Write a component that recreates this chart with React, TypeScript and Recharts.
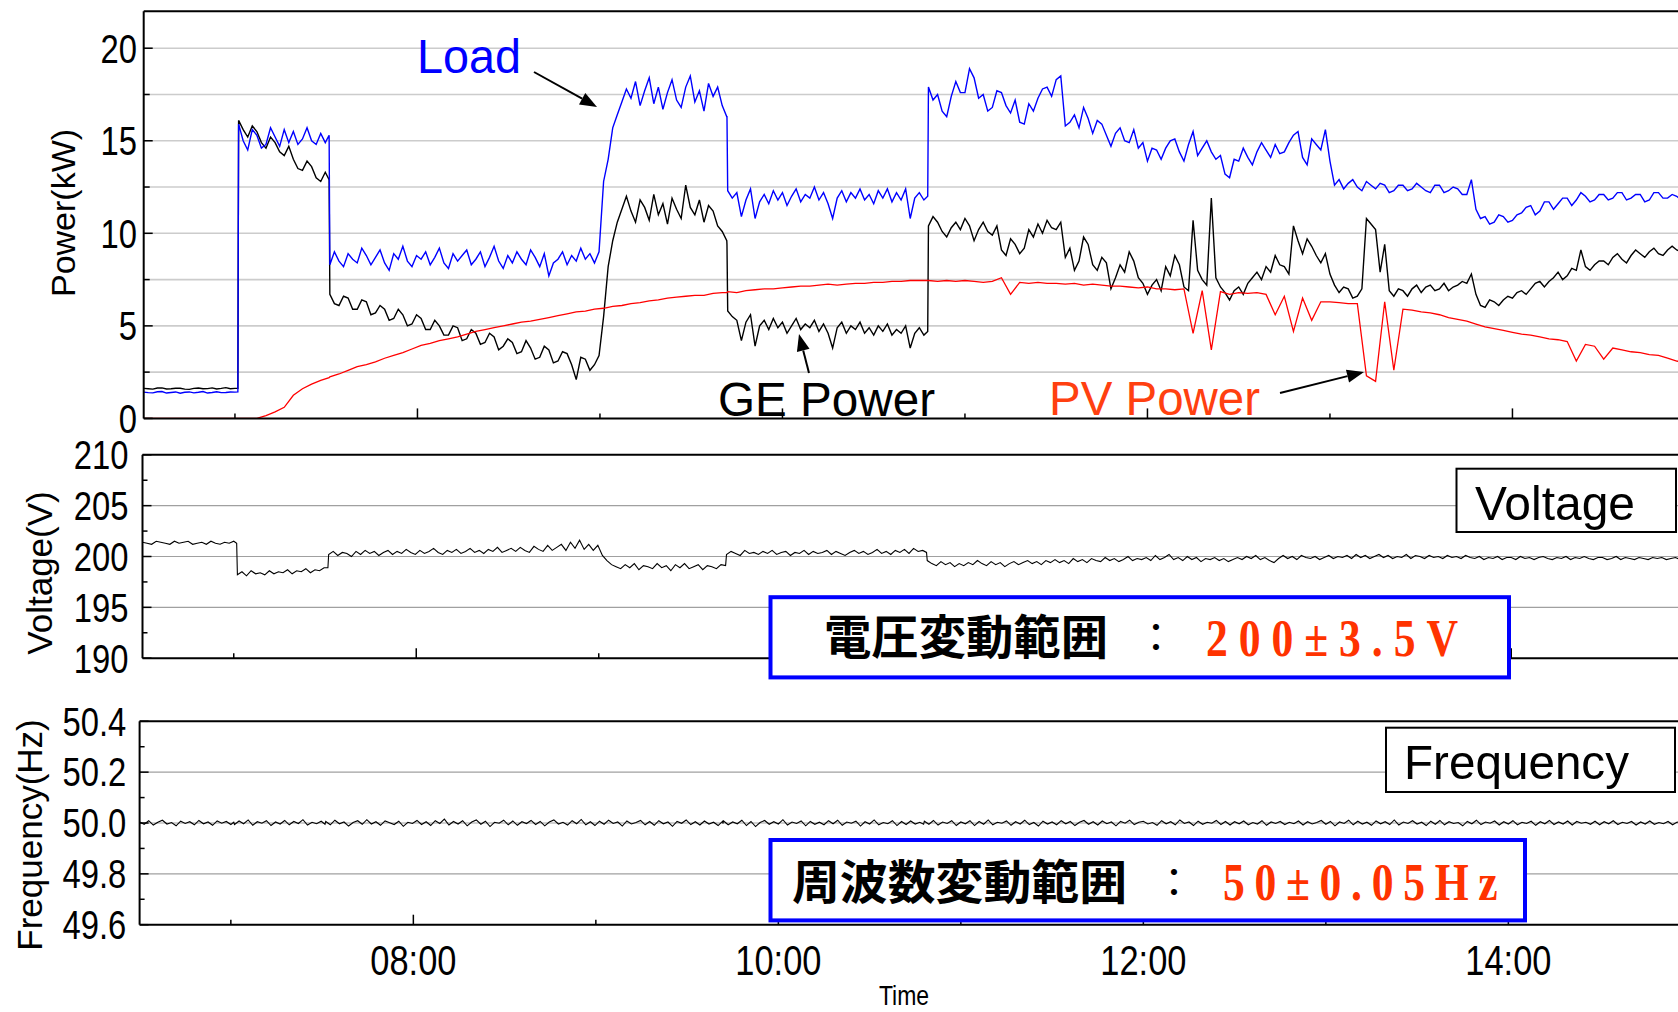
import React from "react";
import {
  LineChart,
  Line,
  XAxis,
  YAxis,
  CartesianGrid,
  ReferenceLine,
} from "recharts";

const W = 1678;
const H = 1012;
const PX_PER_HOUR = 182.5;
const SANS = "'Liberation Sans', Arial, Helvetica, sans-serif";
const SERIF = "'Liberation Serif', 'Times New Roman', serif";
const CJK = "'Noto Sans CJK JP', 'Noto Sans CJK SC', sans-serif";

// sample times in hours, restarted at each switching instant,
// plus one sample just before every switch
const segmentStarts = [6.5, 7.02, 7.52, 9.7, 10.8];
const lastSample = 14.95;

function buildTimes(step: number) {
  const out: number[] = [];
  segmentStarts.forEach((s, i) => {
    const last = i === segmentStarts.length - 1;
    const end = last ? lastSample : segmentStarts[i + 1];
    for (let k = 0; ; k++) {
      const t = Math.round((s + k * step) * 1000) / 1000;
      if (last ? t > end + 1e-6 : t >= end - 1e-6) break;
      out.push(t);
    }
    if (!last) out.push(Math.round((end - 0.004) * 1000) / 1000);
  });
  return out;
}
const times = buildTimes(0.025); // 1.5-minute logger samples
const pvTimes = buildTimes(0.05); // PV read every 3 minutes

const hourTicks = [7, 8, 9, 10, 11, 12, 13, 14];

// ---- Power (kW)
const loadKw = [
  // 6:30 - 7:01
  1.42, 1.39, 1.38, 1.44, 1.45, 1.37, 1.4, 1.43, 1.36, 1.41, 1.43, 1.38, 1.41, 1.45, 1.37, 1.4, 1.44, 1.39, 1.4, 1.43, 1.42, 1.43,
  // 7:01 - 7:31
  15.9, 15.0, 14.5, 15.6, 15.3, 14.6, 14.8, 15.7, 15.2, 14.7, 15.6, 14.9, 15.5, 14.8, 15.1, 15.7, 15.0, 14.8, 15.4, 14.9, 15.3,
  // 7:31 - 9:42
  8.3, 9.0, 8.5, 8.2, 8.9, 8.6, 8.4, 9.2, 8.8, 8.3,
  8.7, 9.1, 8.4, 8.0, 8.9, 8.6, 9.3, 8.5, 8.2, 8.8,
  8.6, 9.0, 8.3, 8.7, 9.2, 8.4, 8.1, 8.9, 8.5, 8.8,
  9.1, 8.3, 8.6, 9.0, 8.2, 8.7, 9.3, 8.5, 8.1, 8.8,
  8.4, 9.0, 8.6, 8.3, 9.1, 8.7, 8.2, 8.9, 7.7, 8.4,
  8.6, 9.0, 8.3, 8.8, 8.5, 9.2, 8.6, 8.9, 8.4, 9.0,
  12.8, 14.0, 15.7, 16.4, 17.1, 17.8,
  17.3, 18.2, 16.9, 17.7, 18.4, 17.0, 17.9, 16.7, 17.6, 18.3, 17.2,
  16.8, 17.9, 18.5, 17.1, 17.7, 16.6, 18.1, 17.4, 17.9, 16.9, 16.3, 16.3,
  // 9:42 - 10:48
  12.3, 11.9, 12.2, 10.9, 11.8, 12.4, 10.8, 11.7, 12.1, 11.6, 12.3, 11.8,
  12.2, 11.5, 12.0, 12.4, 11.7, 12.1, 11.9, 12.5, 11.8, 12.2, 11.6, 10.8,
  11.9, 12.3, 11.7, 12.2, 11.9, 12.4, 11.8, 12.1, 11.6, 12.3, 11.9, 12.4,
  11.7, 12.2, 11.8, 12.4, 10.8, 11.9, 12.2, 11.8, 12.0,
  // 10:48 - 14:57
  17.9, 17.2, 17.5, 16.6, 16.3, 17.4, 18.2, 17.6,
  17.6, 18.9, 18.4, 17.3, 17.5, 16.6, 16.8, 17.7, 17.6, 16.9, 16.5, 17.2, 16.0, 15.9, 17.0, 16.6, 17.3, 17.8, 17.9, 17.4,
  18.3, 18.5, 15.8, 16.0, 16.4, 15.7, 16.8, 16.2, 15.4, 16.1, 15.9, 15.3, 14.7, 15.4, 15.7, 15.0, 14.9, 15.6, 14.6, 14.9,
  13.9, 14.6, 14.5, 14.0, 14.6, 15.0, 15.1, 14.4, 13.9, 14.8, 15.5, 14.2, 14.6, 15.0, 14.4, 14.0, 14.2, 13.2, 13.0, 14.0,
  13.9, 14.6, 14.1, 13.7, 14.4, 14.9, 14.5, 14.1, 14.8, 14.3, 14.4, 14.9, 15.3, 15.5, 14.1, 13.7, 15.1, 14.8, 14.5, 15.6,
  13.9, 12.6, 12.9, 12.4, 12.7, 12.9, 12.5, 12.3, 12.8, 12.6, 12.4, 12.7, 12.6, 12.2, 12.3, 12.6, 12.6, 12.3, 12.4, 12.7,
  12.5, 12.3, 12.2, 12.6, 12.6, 12.2, 12.3, 12.5, 12.4, 12.1, 12.1, 12.9, 11.3, 10.8, 10.9, 10.5, 10.6, 11.0, 10.9, 10.6,
  10.7, 11.0, 11.1, 11.4, 11.5, 11.0, 11.2, 11.7, 11.7, 11.3, 11.6, 11.9, 11.9, 11.5, 11.8, 12.2, 12.0, 11.7, 11.8, 12.1,
  12.1, 11.8, 11.9, 12.2, 12.2, 11.8, 11.9, 12.1, 12.1, 11.7, 11.8, 12.2, 12.2, 11.9, 11.9, 12.1, 12.0, 11.8, 12.0,
];

const geKw = [
  1.62, 1.6, 1.58, 1.64, 1.65, 1.59, 1.6, 1.63, 1.63, 1.58, 1.57, 1.62, 1.64, 1.6, 1.61, 1.65, 1.59, 1.62, 1.66, 1.6, 1.62, 1.63,
  16.1, 15.6, 15.2, 15.8, 15.5, 14.9, 14.6, 15.2, 14.9, 14.4, 14.2, 14.7, 14.0, 13.5, 13.4, 13.9, 13.6, 13.0, 12.8, 13.3, 12.9,
  6.7, 6.2, 6.1, 6.6, 6.5, 5.9, 5.9, 6.4, 6.3, 5.6,
  5.7, 6.1, 5.9, 5.3, 5.4, 5.9, 5.6, 5.0, 5.1, 5.6,
  5.4, 4.8, 4.8, 5.3, 5.0, 4.5, 4.5, 5.0, 4.9, 4.2,
  4.3, 4.8, 4.6, 4.0, 4.1, 4.6, 4.4, 3.7, 3.9, 4.3,
  4.1, 3.5, 3.6, 4.2, 3.8, 3.2, 3.3, 3.9, 3.7, 3.0,
  3.1, 3.6, 3.5, 2.9, 2.1, 3.3, 3.2, 2.6, 2.9, 3.4,
  5.5, 8.2, 9.6, 10.6, 11.3, 12.0,
  11.2, 10.6, 11.8, 11.4, 10.7, 12.1, 11.0, 11.6, 10.5, 11.9, 11.3,
  10.8, 12.6, 11.4, 11.0, 11.8, 10.6, 11.5, 11.2, 10.4, 10.1, 9.6, 9.4,
  5.8, 5.5, 5.3, 4.2, 5.2, 5.6, 3.9, 5.0, 5.3, 4.8, 5.4, 4.9,
  5.2, 4.6, 5.0, 5.4, 4.8, 5.1, 4.9, 5.3, 4.7, 5.1, 4.6, 3.8,
  4.9, 5.2, 4.6, 5.0, 4.8, 5.2, 4.6, 4.9, 4.5, 5.0, 4.7, 5.1,
  4.5, 4.8, 4.6, 5.0, 3.8, 4.6, 4.9, 4.5, 4.7,
  10.4, 10.9, 10.6, 10.1, 9.8, 10.3, 10.6, 10.2,
  10.8, 10.4, 9.6, 10.2, 10.6, 10.1, 9.9, 10.4, 9.1, 8.8, 9.7, 9.4, 8.9, 9.2, 10.2, 9.8, 10.5, 10.0, 10.7, 10.3,
  10.2, 10.6, 8.7, 9.2, 8.0, 8.5, 9.8, 9.4, 8.3, 8.0, 8.7, 8.4, 7.0, 7.6, 8.3, 7.9, 9.0, 8.5, 7.6, 7.3,
  6.7, 7.2, 7.5, 6.9, 8.2, 7.7, 8.8, 8.3, 7.1, 6.9, 10.7, 8.0, 7.5, 7.2, 11.9, 7.6, 7.1, 6.8, 6.4, 6.9,
  7.1, 6.7, 7.3, 7.6, 7.9, 7.5, 8.2, 7.9, 8.8, 8.3, 8.2, 7.8, 10.4, 9.6, 8.9, 9.7, 9.3, 8.8, 8.4, 8.9,
  7.8, 7.2, 6.8, 7.1, 7.0, 6.5, 6.6, 7.0, 10.8, 10.5, 10.2, 7.9, 9.4, 6.9, 6.6, 7.0, 6.9, 6.6, 7.0, 7.2,
  6.8, 7.1, 7.2, 6.9, 7.0, 7.3, 6.9, 7.1, 7.2, 7.4, 7.3, 7.8, 6.7, 6.1, 6.0, 6.4, 6.3, 6.1, 6.4, 6.6,
  6.5, 6.8, 6.9, 6.7, 7.0, 7.3, 7.4, 7.1, 7.4, 7.6, 7.9, 7.5, 7.7, 8.1, 8.0, 9.1, 8.2, 8.0, 8.3, 8.5,
  8.5, 8.3, 8.7, 8.9, 8.6, 8.4, 8.8, 9.1, 8.9, 8.7, 9.0, 9.2, 8.9, 8.8, 9.1, 9.3, 9.1, 9.0, 9.2,
];

// PV output on the 3-minute grid
const pvKw = [
  0, 0, 0, 0, 0, 0, 0, 0, 0, 0, 0, 0,
  0, 0, 0, 0.15, 0.35, 0.6, 1.25, 1.6, 1.85, 2.05, 2.2,
  2.25, 2.4, 2.6, 2.8, 2.9, 3.05, 3.25, 3.4, 3.55, 3.75,
  3.95, 4.05, 4.2, 4.3, 4.4, 4.55, 4.7, 4.8, 4.9, 5.0,
  5.1, 5.2, 5.25, 5.35, 5.45, 5.55, 5.65, 5.75, 5.8, 5.9,
  5.95, 6.05, 6.1, 6.2, 6.25, 6.35, 6.4, 6.5, 6.55, 6.6,
  6.65, 6.65, 6.75, 6.8, 6.8,
  6.85, 6.8, 6.9, 6.95, 7.0, 7.0, 7.05, 7.1, 7.15, 7.15, 7.2, 7.25,
  7.2, 7.25, 7.3, 7.3, 7.35, 7.35, 7.4, 7.4, 7.45, 7.45, 7.45,
  7.45, 7.4, 7.45, 7.4,
  7.45, 7.4, 7.35, 7.4, 7.6, 6.7, 7.35, 7.3, 7.35, 7.3,
  7.3, 7.25, 7.3, 7.2, 7.25, 7.2, 7.15, 7.15, 7.1, 7.05,
  7.1, 7.0, 7.0, 6.95, 7.0, 4.6, 6.9, 3.7, 6.85, 6.7,
  6.8, 6.75, 6.8, 6.7, 5.6, 6.6, 4.7, 6.5, 5.3, 6.3,
  6.3, 6.25, 6.2, 6.2, 2.3, 2.0, 6.3, 2.6, 5.9, 5.85,
  5.75, 5.7, 5.6, 5.45, 5.35, 5.25, 5.1, 4.95, 4.85, 4.75,
  4.65, 4.55, 4.5, 4.4, 4.3, 4.25, 4.15, 3.1, 4.0, 3.9,
  3.2, 3.8, 3.7, 3.6, 3.55, 3.45, 3.4, 3.25, 3.1, 3.0,
];

// ---- Voltage (V)
const voltageV = [
  201.4, 201.3, 201.2, 201.5, 201.4, 201.3, 201.2, 201.5, 201.3, 201.4, 201.5, 201.2, 201.3, 201.4, 201.2, 201.5, 201.3, 201.2, 201.4, 201.3, 201.5, 201.3,
  198.2, 198.5, 198.1, 198.6, 198.3, 198.4, 198.2, 198.6, 198.3, 198.5, 198.4, 198.7, 198.3, 198.6, 198.5, 198.8, 198.4, 198.7, 198.6, 198.9, 198.9,
  200.2, 200.5, 200.1, 200.4, 200.3, 200.0, 200.5, 200.2, 200.6, 200.3,
  200.5, 200.1, 200.4, 200.6, 200.2, 200.5, 200.3, 200.7, 200.4, 200.2,
  200.6, 200.3, 200.5, 200.8, 200.4, 200.2, 200.6, 200.4, 200.7, 200.3,
  200.5, 200.8, 200.4, 200.6, 200.3, 200.7, 200.5, 200.9, 200.4, 200.6,
  200.8, 200.5, 200.9, 200.6, 200.4, 201.0, 200.7, 200.5, 201.1, 200.6,
  200.9, 201.2, 200.6, 201.4, 200.8, 201.6, 200.7, 201.2, 200.6, 201.1,
  200.1, 199.6, 199.2, 199.0, 198.8, 199.2, 198.9, 199.3, 198.7, 199.1, 199.0, 198.8, 199.3, 198.9,
  199.1, 198.6, 199.2, 198.9, 199.3, 198.8, 199.0, 199.2, 198.7, 199.1, 199.0, 198.8, 199.2, 199.1, 199.3,
  200.2, 200.5, 200.3, 200.1, 200.6, 200.3, 200.4, 200.2, 200.5, 200.3, 200.6, 200.2,
  200.4, 200.5, 200.1, 200.4, 200.3, 200.6, 200.2, 200.5, 200.3, 200.4, 200.6, 200.2,
  200.5, 200.3, 200.1, 200.4, 200.6, 200.3, 200.5, 200.2, 200.4, 200.7, 200.3, 200.5,
  200.2, 200.6, 200.4, 200.7, 200.3, 200.8, 200.5, 200.6, 200.4,
  199.6, 199.3, 199.1, 199.5, 199.2, 199.4, 199.0, 199.3,
  199.1, 199.4, 199.2, 199.6, 199.3, 199.1, 199.5, 199.2, 199.4, 199.0, 199.3, 199.5, 199.2, 199.4, 199.6, 199.3, 199.5, 199.2, 199.6, 199.4,
  199.7, 199.4, 199.6, 199.3, 199.8, 199.5, 199.7, 199.4, 199.8, 199.6, 199.5, 199.9, 199.6, 199.8, 199.5, 199.7, 200.0, 199.6, 199.8, 199.7,
  199.9, 199.6, 200.1, 199.7, 199.9, 200.2, 199.7, 199.9, 199.6, 200.0, 199.7, 199.9, 199.5, 199.8, 199.7, 199.9, 199.6, 199.8, 199.5, 199.7,
  199.9, 199.7, 200.0, 199.8, 200.1, 199.7, 199.9, 199.6, 199.4, 199.8, 200.1, 199.8, 200.0, 199.7, 200.1, 199.9, 199.8, 200.0, 199.7, 199.9,
  200.1, 199.8, 200.0, 199.9, 200.1, 199.8, 200.2, 199.9, 200.1, 199.8, 200.0, 200.2, 199.9, 200.1, 199.8, 200.0, 199.9, 200.2, 199.8, 200.1,
  200.0, 199.8, 200.1, 199.9, 200.0, 199.8, 200.1, 199.9, 200.0, 199.8, 200.1, 199.9, 199.8, 200.0, 199.7, 199.9, 199.8, 200.0, 199.7, 199.9,
  199.9, 199.7, 200.0, 199.8, 199.9, 199.7, 199.9, 200.0, 199.8, 199.7, 199.9, 199.8, 200.0, 199.7, 199.9, 199.8, 200.0, 199.8, 199.7, 199.9,
  199.9, 199.7, 199.8, 200.0, 199.7, 199.9, 199.8, 199.7, 199.9, 199.8, 199.7, 199.9, 199.8, 199.9, 199.7, 199.8, 199.9, 199.7, 199.8,
];

// ---- Frequency (Hz)
const frequencyHz = [
  50.004, 49.995, 50.009, 49.992, 50.003, 50.011, 49.996, 50.002, 49.989, 50.007, 49.998, 50.005, 49.993, 50.01, 49.997, 50.004, 49.991, 50.008, 49.999, 50.006, 49.994, 50.003,
  49.994, 50.008, 49.997, 50.012, 49.991, 50.005, 49.999, 50.009, 49.99, 50.004, 49.996, 50.01, 49.993, 50.006, 49.998, 50.013, 49.992, 50.003, 49.997, 50.007, 49.995,
  50.006, 49.993, 50.011, 49.997, 50.004, 49.988, 50.002, 50.009, 49.995, 50.013,
  49.996, 50.005, 49.991, 50.008, 50.001, 49.994, 50.007, 49.987, 50.003, 49.998,
  50.01, 49.994, 50.005, 49.99, 50.009, 49.998, 50.015, 49.992, 50.006, 49.996,
  50.009, 49.989, 50.004, 50.012, 49.995, 50.007, 49.986, 50.003, 49.999, 50.011,
  49.993, 50.008, 49.991, 50.005, 49.998, 50.01, 49.994, 50.006, 49.989, 50.004,
  50.012, 49.996, 50.003, 49.992, 50.009, 49.997, 50.014, 49.993, 50.005, 49.99,
  50.007, 49.995, 50.011, 49.998, 50.004, 49.988, 50.008, 49.996, 50.002, 50.01,
  49.993, 50.006, 49.991, 50.009, 49.997, 50.004, 49.987, 50.006, 49.999, 50.012,
  49.994, 50.005, 49.992, 50.008, 49.996, 50.003, 49.99, 50.007, 49.998,
  50.008, 49.993, 50.004, 49.997, 50.011, 49.99, 50.006, 49.986, 50.002, 50.01,
  49.995, 50.005, 49.996, 50.013, 49.992, 50.004, 49.998, 50.008, 49.989, 50.006,
  49.995, 50.003, 49.993, 50.009, 49.997, 50.011, 49.991, 50.004, 49.999, 50.007,
  49.988, 50.005, 49.996, 50.012, 49.993, 50.002, 49.997, 50.009, 49.99, 50.006,
  49.994, 50.008, 49.996, 50.003, 49.995,
  50.007, 49.995, 50.01, 49.992, 50.004, 49.998, 50.009, 49.99,
  50.004, 49.997, 50.009, 49.99, 50.006, 49.995, 50.012, 49.993, 50.003, 49.999,
  50.008, 49.991, 50.005, 49.996, 50.011, 49.994, 50.002, 49.988, 50.007, 49.996,
  50.004, 49.993, 50.009, 49.997, 50.006, 49.99, 50.003, 50.01, 49.995, 50.005,
  49.992, 50.008, 49.997, 50.004, 49.989, 50.006, 49.999, 50.011, 49.994, 50.003,
  50.007, 49.996, 50.002, 49.991, 50.009, 49.997, 50.005, 49.993, 50.012, 49.998,
  50.004, 49.99, 50.007, 49.995, 50.003, 49.999, 50.01, 49.994, 50.006, 49.992,
  50.005, 49.997, 50.008, 49.993, 50.002, 49.996, 50.009, 49.991, 50.004, 49.998,
  50.006, 49.994, 50.003, 49.997, 50.008, 49.992, 50.005, 49.996, 50.002, 50.01,
  49.995, 50.006, 49.989, 50.004, 49.998, 50.011, 49.993, 50.007, 49.996, 50.003,
  49.991, 50.008, 49.997, 50.005, 49.994, 50.012, 49.992, 50.004, 49.998, 50.009,
  49.996, 50.003, 49.99, 50.007, 49.995, 50.01, 49.993, 50.005, 49.998, 50.002,
  49.989, 50.006, 49.997, 50.011, 49.994, 50.004, 49.999, 50.008, 49.992, 50.005,
  49.996, 50.009, 49.993, 50.003, 49.998, 50.007, 49.991, 50.005, 49.997, 50.01,
  49.994, 50.004, 49.996, 50.008, 49.992, 50.006, 49.999, 50.003, 49.995, 50.007,
  49.993, 50.005, 49.997, 50.009, 49.994, 50.003, 49.998, 50.006, 49.992, 50.004,
  49.996, 50.008, 49.995, 50.002, 49.997, 50.006, 49.993, 50.004, 49.998,
];

const powerTicks = [0, 2.5, 5, 7.5, 10, 12.5, 15, 17.5, 20];
const powerLabels = [0, 5, 10, 15, 20];
const powerGrid = [2.5, 5, 7.5, 10, 12.5, 15, 17.5, 20];
const voltTicks = [190, 192.5, 195, 197.5, 200, 202.5, 205, 207.5, 210];
const voltLabels = [190, 195, 200, 205, 210];
const voltGrid = [195, 200, 205];
const freqTicks = [49.6, 49.7, 49.8, 49.9, 50.0, 50.1, 50.2, 50.3, 50.4];
const freqLabels = [49.6, 49.8, 50.0, 50.2, 50.4];
const freqGrid = [49.8, 50.0, 50.2];

const pvAt = new Map(pvTimes.map((t, i) => [t, pvKw[i]]));

const rows = times.map((t, i) => ({
  t,
  load: loadKw[i],
  ge: geKw[i],
  pv: pvAt.has(t) ? pvAt.get(t) : null,
  volt: voltageV[i],
  freq: frequencyHz[i],
}));

const hhmm = (h: number) => `${String(h).padStart(2, "0")}:00`;
const isIn = (v: number, list: number[]) => list.some((x) => Math.abs(x - v) < 1e-6);

type LineDef = { key: string; color: string; width: number };

type PanelProps = {
  lines: LineDef[];
  left: number;
  top: number;
  bottom: number;
  yDomain: [number, number];
  yTicks: number[];
  yLabels: number[];
  digits: number;
  labelRight: number;
  minorLen: number;
  grid: number[];
  gridColor: string;
  gridWidth: number;
  timeLabels?: boolean;
};

const Panel = (p: PanelProps) => {
  const axisH = 40;
  const xMax = 6.5 + (W - p.left) / PX_PER_HOUR;

  const xTick = (tp: any) => {
    const h = tp.payload.value;
    const even = h % 2 === 0;
    return (
      <g>
        <line x1={tp.x} x2={tp.x} y1={p.bottom} y2={p.bottom - (even ? 10 : 5)} stroke="#000" strokeWidth={1.5} />
        {p.timeLabels && even && (
          <text
            transform={`translate(${tp.x},975) scale(0.82,1)`}
            textAnchor="middle"
            fontSize={42}
            fontFamily={SANS}
            fill="#000"
          >
            {hhmm(h)}
          </text>
        )}
      </g>
    );
  };

  const yTick = (tp: any) => {
    const v = tp.payload.value;
    const major = isIn(v, p.yLabels);
    return (
      <g>
        <line x1={p.left} x2={p.left + (major ? 9 : p.minorLen)} y1={tp.y} y2={tp.y} stroke="#000" strokeWidth={1.5} />
        {major && (
          <text
            transform={`translate(${p.labelRight},${tp.y + 14.3}) scale(0.82,1)`}
            textAnchor="end"
            fontSize={40}
            fontFamily={SANS}
            fill="#000"
          >
            {v.toFixed(p.digits)}
          </text>
        )}
      </g>
    );
  };

  return (
    <div style={{ position: "absolute", left: 0, top: 0 }}>
      <LineChart
        width={W}
        height={H}
        data={rows}
        margin={{ top: p.top, right: 0, left: 0, bottom: H - p.bottom - axisH }}
      >
        <CartesianGrid
          vertical={false}
          horizontalValues={p.grid}
          stroke={p.gridColor}
          strokeWidth={p.gridWidth}
        />
        <XAxis
          dataKey="t"
          type="number"
          domain={[6.5, xMax]}
          ticks={hourTicks}
          interval={0}
          allowDataOverflow
          height={axisH}
          tickLine={false}
          axisLine={{ stroke: "#000", strokeWidth: 2 }}
          tick={xTick}
        />
        <YAxis
          type="number"
          domain={p.yDomain}
          ticks={p.yTicks}
          interval={0}
          allowDataOverflow
          width={p.left}
          tickLine={false}
          axisLine={{ stroke: "#000", strokeWidth: 2 }}
          tick={yTick}
        />
        <ReferenceLine y={p.yDomain[1]} stroke="#000" strokeWidth={2} />
        {p.lines.map((l) => (
          <Line
            key={l.key}
            type="linear"
            dataKey={l.key}
            stroke={l.color}
            strokeWidth={l.width}
            dot={false}
            activeDot={false}
            connectNulls
            isAnimationActive={false}
          />
        ))}
      </LineChart>
    </div>
  );
};

const Arrow = ({ x1, y1, x2, y2 }: { x1: number; y1: number; x2: number; y2: number }) => {
  const a = Math.atan2(y2 - y1, x2 - x1);
  const len = 17;
  const half = 6.5;
  const bx = x2 - len * Math.cos(a);
  const by = y2 - len * Math.sin(a);
  const pts = [
    [x2, y2],
    [bx + half * Math.sin(a), by - half * Math.cos(a)],
    [bx - half * Math.sin(a), by + half * Math.cos(a)],
  ]
    .map((q) => q.join(","))
    .join(" ");
  return (
    <g>
      <line x1={x1} y1={y1} x2={bx} y2={by} stroke="#000" strokeWidth={2} />
      <polygon points={pts} fill="#000" />
    </g>
  );
};

const Overlay = () => (
  <svg width={W} height={H} style={{ position: "absolute", left: 0, top: 0, pointerEvents: "none" }}>
    {/* axis titles */}
    <text
      x={63}
      y={213}
      transform="rotate(-90 63 213)"
      textAnchor="middle"
      dominantBaseline="central"
      fontSize={34}
      fontFamily={SANS}
    >
      Power(kW)
    </text>
    <text
      x={39.5}
      y={573}
      transform="rotate(-90 39.5 573)"
      textAnchor="middle"
      dominantBaseline="central"
      fontSize={35}
      fontFamily={SANS}
    >
      Voltage(V)
    </text>
    <text
      x={29.5}
      y={835}
      transform="rotate(-90 29.5 835)"
      textAnchor="middle"
      dominantBaseline="central"
      fontSize={35}
      fontFamily={SANS}
    >
      Frequency(Hz)
    </text>
    <text transform="translate(904,1005) scale(0.82,1)" textAnchor="middle" fontSize={28} fontFamily={SANS}>
      Time
    </text>

    {/* series callouts */}
    <text x={417} y={73} fontSize={48} fontFamily={SANS} fill="#0000ff" textLength={104} lengthAdjust="spacingAndGlyphs">
      Load
    </text>
    <Arrow x1={534} y1={72} x2={597} y2={107} />
    <text x={718} y={416} fontSize={48} fontFamily={SANS} fill="#000" textLength={217} lengthAdjust="spacingAndGlyphs">
      GE Power
    </text>
    <Arrow x1={809} y1={373} x2={799} y2={334} />
    <text x={1049} y={415} fontSize={48} fontFamily={SANS} fill="#ff4010" textLength={211} lengthAdjust="spacingAndGlyphs">
      PV Power
    </text>
    <Arrow x1={1280} y1={393} x2={1364} y2={372} />

    {/* legend boxes */}
    <rect x={1456.5} y={468.7} width={219.5} height={63.3} fill="#fff" stroke="#000" strokeWidth={2} />
    <text x={1475} y={520} fontSize={49} fontFamily={SANS} textLength={160} lengthAdjust="spacingAndGlyphs">
      Voltage
    </text>
    <rect x={1386} y={727.7} width={289} height={64.3} fill="#fff" stroke="#000" strokeWidth={2} />
    <text x={1404} y={779} fontSize={49} fontFamily={SANS} textLength={225} lengthAdjust="spacingAndGlyphs">
      Frequency
    </text>

    {/* range boxes */}
    <rect x={770.5} y={597.2} width={738.5} height={80.2} fill="#fff" stroke="#0000ff" strokeWidth={4} />
    <text x={824} y={654} fontSize={47} fontWeight={700} fontFamily={CJK} textLength={284} lengthAdjust="spacingAndGlyphs">
      電圧変動範囲
    </text>
    <text x={1156} y={652} fontSize={40} fontWeight={400} fontFamily={CJK} textAnchor="middle">
      ：
    </text>
    <text
      transform="translate(1206,656) scale(0.84,1)"
      fontSize={52}
      fontWeight={700}
      fontFamily={SERIF}
      fill="#ff3300"
      textLength={300}
    >
      200±3.5V
    </text>

    <rect x={770.5} y={840} width={754.5} height={80.4} fill="#fff" stroke="#0000ff" strokeWidth={4} />
    <text x={792} y={899} fontSize={47} fontWeight={700} fontFamily={CJK} textLength={335} lengthAdjust="spacingAndGlyphs">
      周波数変動範囲
    </text>
    <text x={1174} y={897} fontSize={40} fontWeight={400} fontFamily={CJK} textAnchor="middle">
      ：
    </text>
    <text
      transform="translate(1223,900) scale(0.84,1)"
      fontSize={52}
      fontWeight={700}
      fontFamily={SERIF}
      fill="#ff3300"
      textLength={327}
    >
      50±0.05Hz
    </text>
  </svg>
);

export default function App() {
  return (
    <div
      style={{
        position: "absolute",
        left: 0,
        top: 0,
        width: W,
        height: H,
        background: "#fff",
        overflow: "hidden",
      }}
    >
      <Panel
        lines={[
          { key: "ge", color: "#000000", width: 1.4 },
          { key: "load", color: "#0000ff", width: 1.4 },
          { key: "pv", color: "#ff0000", width: 1.3 },
        ]}
        left={143.7}
        top={11.2}
        bottom={418.4}
        yDomain={[0, 22]}
        yTicks={powerTicks}
        yLabels={powerLabels}
        digits={0}
        labelRight={137}
        minorLen={6}
        grid={powerGrid}
        gridColor="#cccccc"
        gridWidth={1.6}
      />
      <Panel
        lines={[{ key: "volt", color: "#000000", width: 1.1 }]}
        left={142.5}
        top={454.8}
        bottom={658.2}
        yDomain={[190, 210]}
        yTicks={voltTicks}
        yLabels={voltLabels}
        digits={0}
        labelRight={128.4}
        minorLen={5}
        grid={voltGrid}
        gridColor="#a0a0a0"
        gridWidth={1.2}
      />
      <Panel
        lines={[{ key: "freq", color: "#000000", width: 1.1 }]}
        left={139.6}
        top={721.3}
        bottom={924.7}
        yDomain={[49.6, 50.4]}
        yTicks={freqTicks}
        yLabels={freqLabels}
        digits={1}
        labelRight={126.3}
        minorLen={5}
        grid={freqGrid}
        gridColor="#a0a0a0"
        gridWidth={1.2}
        timeLabels
      />
      <Overlay />
    </div>
  );
}
